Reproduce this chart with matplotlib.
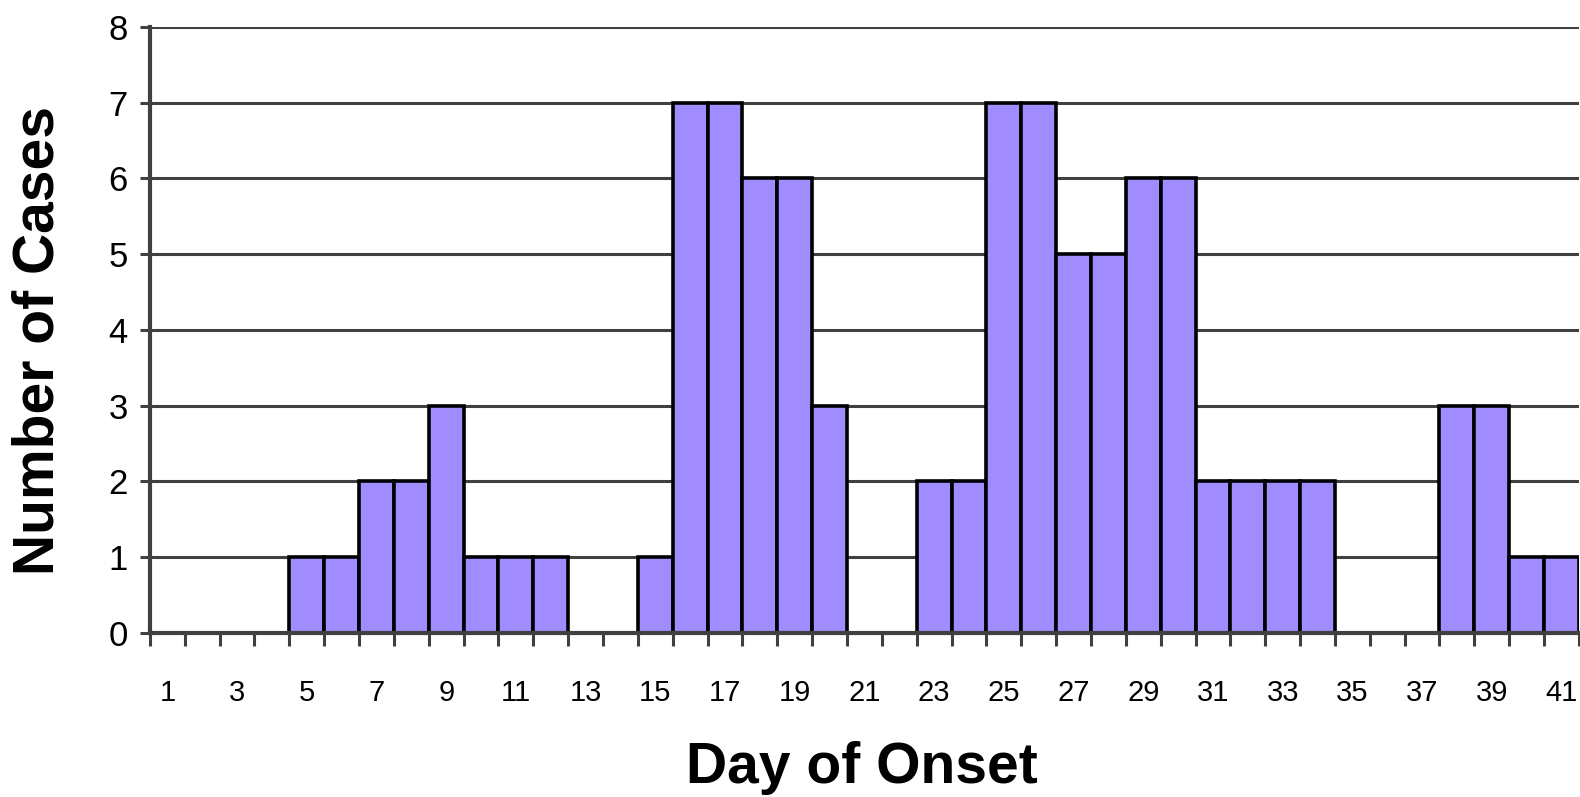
import numpy as np
import matplotlib.pyplot as plt
from matplotlib.ticker import MultipleLocator, FixedLocator

plt.rcParams['font.family'] = ['Liberation Sans', 'DejaVu Sans']

# ── Data: cases per day of onset ─────────────────────────────
days = np.arange(1, 42)
cases = [0, 0, 0, 0, 1, 1, 2, 2, 3, 1,
         1, 1, 0, 0, 1, 7, 7, 6, 6, 3,
         0, 0, 2, 2, 7, 7, 5, 5, 6, 6,
         2, 2, 2, 2, 0, 0, 0, 3, 3, 1,
         1]
tick_days = days[::2]

BAR_COLOR = '#a08cff'
GRID_COLOR = '#404040'

# ── Plot ─────────────────────────────────────────────────────
fig = plt.figure(figsize=(15.8, 7.97), dpi=100)
ax = fig.add_axes([0.0949, 0.2058, 0.9044, 0.7604])

ax.bar(days, cases, width=1.0, color=BAR_COLOR, edgecolor='black',
       linewidth=2.6, zorder=3)

ax.set_xlim(0.5, 41.5)
ax.set_ylim(0, 8)

# gridlines
ax.yaxis.set_major_locator(MultipleLocator(1))
ax.grid(axis='y', color=GRID_COLOR, linewidth=2.2, zorder=1)
ax.set_axisbelow(True)

# labels under bar centres, ticks at bar edges
ax.xaxis.set_major_locator(FixedLocator(tick_days))
ax.xaxis.set_minor_locator(FixedLocator(np.arange(0.5, 42, 1.0)))
ax.set_xticklabels([str(d) for d in tick_days])
ax.tick_params(axis='x', which='major', length=0, pad=33, labelsize=21)
ax.tick_params(axis='x', which='minor', length=9, width=2.2,
               color=GRID_COLOR, direction='out')
ax.tick_params(axis='y', which='major', length=7, width=2.2,
               color=GRID_COLOR, pad=9, labelsize=25)

for side in ('top', 'right'):
    ax.spines[side].set_visible(False)
for side in ('left', 'bottom'):
    ax.spines[side].set_color(GRID_COLOR)
    ax.spines[side].set_linewidth(3)
    ax.spines[side].set_zorder(4)

ax.set_xlabel('Day of Onset', fontsize=41, fontweight='bold', va='center')
ax.set_ylabel('Number of Cases', fontsize=41, fontweight='bold', va='center')
ax.xaxis.set_label_coords(0.498, -0.222)
ax.yaxis.set_label_coords(-0.078, 0.482)

fig.savefig('out.png', dpi=100)
